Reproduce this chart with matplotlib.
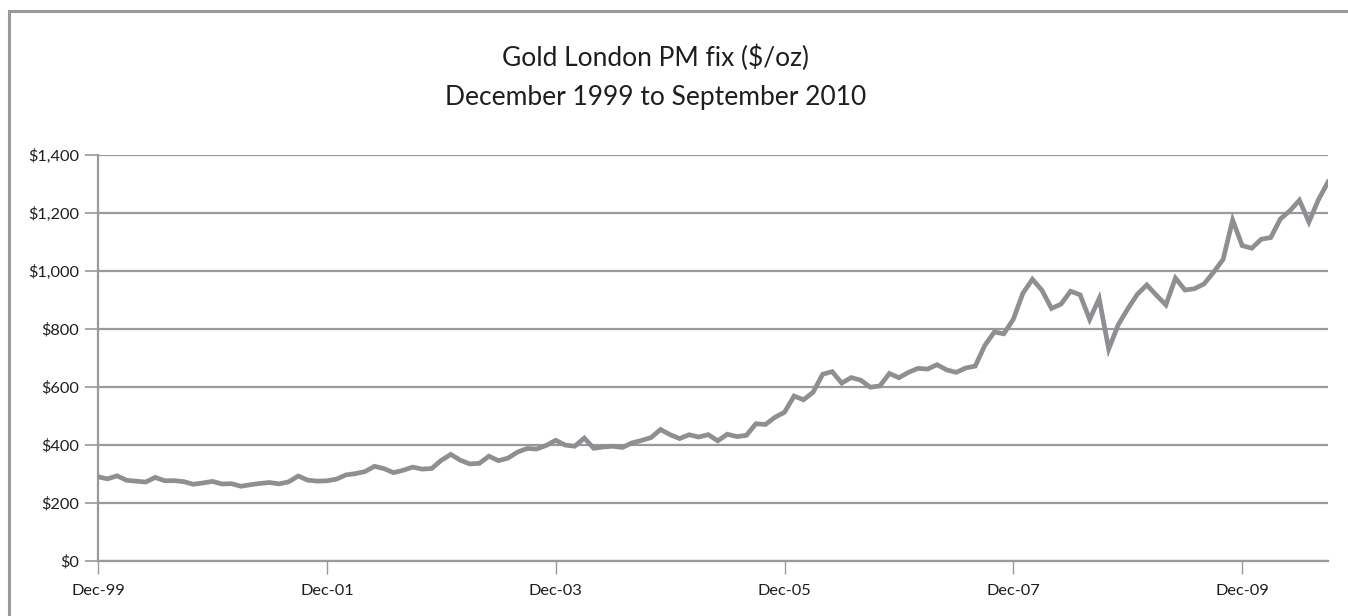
import matplotlib
matplotlib.use("Agg")
import matplotlib.pyplot as plt
import numpy as np
import pandas as pd
from matplotlib.patches import Rectangle

# month-end London PM fix, Dec 1999 .. Sep 2010 ($/oz)
months = pd.date_range("1999-12-01", "2010-09-01", freq="MS")
price_1999 = [290.25]
price_2000 = [283.30, 293.65, 278.40, 275.20, 272.25, 288.15, 276.75, 277.00, 273.65, 264.50, 269.10, 274.45]
price_2001 = [265.60, 266.70, 257.70, 263.15, 267.50, 270.60, 265.90, 273.00, 293.10, 278.75, 275.50, 276.50]
price_2002 = [282.30, 296.85, 301.40, 308.20, 326.60, 318.50, 304.65, 312.80, 323.70, 316.90, 319.05, 347.20]
price_2003 = [367.50, 347.45, 334.85, 336.75, 361.40, 346.00, 354.75, 375.60, 388.00, 386.25, 398.35, 416.25]
price_2004 = [399.75, 395.85, 423.70, 388.50, 393.25, 395.80, 391.40, 407.25, 415.65, 425.55, 453.40, 435.60]
price_2005 = [422.15, 435.45, 427.50, 435.70, 414.45, 437.10, 429.00, 433.25, 473.25, 470.75, 495.65, 513.00]
price_2006 = [568.75, 556.00, 582.00, 644.00, 653.00, 613.50, 632.50, 623.50, 599.25, 603.75, 646.70, 632.00]
price_2007 = [650.50, 664.20, 661.75, 677.00, 659.10, 650.50, 665.50, 672.00, 743.00, 789.50, 783.50, 833.75]
price_2008 = [923.25, 971.50, 933.50, 871.00, 885.75, 930.25, 918.00, 833.00, 905.00, 730.75, 814.50, 869.75]
price_2009 = [919.50, 952.00, 916.50, 883.25, 975.50, 934.50, 939.00, 955.50, 995.75, 1040.00, 1175.75, 1087.50]
price_2010 = [1078.50, 1109.50, 1115.50, 1179.25, 1207.50, 1244.00, 1169.00, 1246.00, 1307.00]

prices = (price_1999 + price_2000 + price_2001 + price_2002 + price_2003 + price_2004
          + price_2005 + price_2006 + price_2007 + price_2008 + price_2009 + price_2010)

y_ticks = [0, 200, 400, 600, 800, 1000, 1200, 1400]
x_tick_step = 24

FONT = ["Lato", "DejaVu Sans"]
GRID = "#9a9a9c"
LINE = "#8e8f92"


def main():
    plt.rcParams["font.family"] = FONT
    fig = plt.figure(figsize=(13.48, 6.16), dpi=100)
    ax = fig.add_axes([98 / 1348, 1 - 561 / 616, (1328 - 98) / 1348, (561 - 155) / 616])

    x = np.arange(len(prices))
    ax.plot(x, prices, color=LINE, linewidth=3.4, solid_joinstyle="miter", zorder=3)

    ax.set_xlim(0, len(prices) - 1)
    ax.set_ylim(0, 1400)
    ax.set_yticks(y_ticks)
    ax.set_yticklabels([f"${v:,}" for v in y_ticks])
    tick_pos = list(range(0, len(prices), x_tick_step))
    ax.set_xticks(tick_pos)
    ax.set_xticklabels([months[i].strftime("%b-%y") for i in tick_pos])

    ax.yaxis.grid(True, color=GRID, linewidth=1.6)
    ax.set_axisbelow(True)
    for side in ("top", "right"):
        ax.spines[side].set_visible(False)
    ax.spines["left"].set_color(GRID)
    ax.spines["left"].set_linewidth(1.6)
    ax.spines["bottom"].set_color(GRID)
    ax.spines["bottom"].set_linewidth(1.6)
    ax.tick_params(axis="y", length=9.5, width=1.2, color=GRID, pad=4, labelsize=11.8, labelcolor="#1e1e1e")
    ax.tick_params(axis="x", length=9.5, width=1.0, color=GRID, pad=7, labelsize=11.8, labelcolor="#1e1e1e")

    fig.text(656 / 1348, 1 - 58 / 616, "Gold London PM fix ($/oz)", ha="center", va="center",
             fontsize=19, color="#1e1e1e")
    fig.text(656 / 1348, 1 - 97 / 616, "December 1999 to September 2010", ha="center", va="center",
             fontsize=19, color="#1e1e1e")

    # chart-area frame (right and bottom edges fall outside the picture)
    fig.patches.append(Rectangle((9 / 1348, -0.1), 1.2, 1.1 - 11 / 616, transform=fig.transFigure,
                                 fill=False, edgecolor=GRID, linewidth=2.2))

    fig.savefig("out.png", dpi=100)
    plt.close(fig)


if __name__ == "__main__":
    main()
